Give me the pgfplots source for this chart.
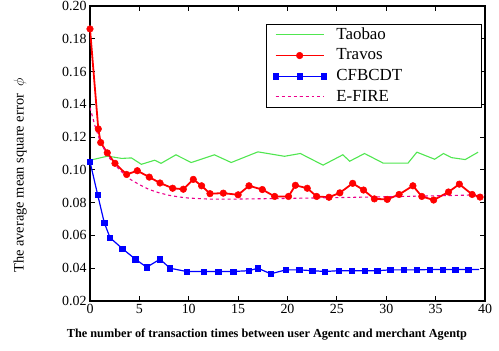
\documentclass[border=0pt]{standalone}
\usepackage{pgfplots}
\pgfplotsset{compat=1.18}
\usepackage{fontspec}
\setmainfont{Liberation Serif}
\definecolor{tbgreen}{RGB}{80,230,80}
\begin{document}
\begin{tikzpicture}
\useasboundingbox (-90bp,-50bp) rectangle (409bp,301bp);
\begin{axis}[
  at={(0,0)}, anchor=south west,
  scale only axis, width=395bp, height=295bp,
  xmin=0, xmax=40, ymin=0.02, ymax=0.20,
  xtick={0,5,10,15,20,25,30,35,40},
  ytick={0.02,0.04,0.06,0.08,0.10,0.12,0.14,0.16,0.18,0.20},
  tick align=inside, major tick length=5bp,
  axis line style={line width=1.3bp},
  every tick/.style={black, line width=0.8bp},
  tick label style={font=\rmfamily\fontsize{14}{14}\selectfont},
  /pgf/number format/assume math mode=true,
  yticklabel style={/pgf/number format/fixed, /pgf/number format/precision=2, /pgf/number format/fixed zerofill},
  xlabel={The number of transaction times between user Agentc and merchant Agentp},
  xlabel style={font=\rmfamily\bfseries\fontsize{12.3}{12.3}\selectfont, at={(axis description cs:0.448,-0.112)}, anchor=center},
  ylabel={The average mean square error\ \ $\phi$},
  ylabel style={font=\rmfamily\fontsize{14.5}{14.5}\selectfont, at={(axis description cs:-0.177,0.425)}, anchor=center, rotate=0},
  legend style={at={(axis description cs:0.992,0.939)}, anchor=north east, draw=black, line width=1bp,
    font=\rmfamily\fontsize{17}{17}\selectfont, inner xsep=6bp, inner ysep=0bp, row sep=0pt, column sep=8bp,
    nodes={inner xsep=2bp, inner ysep=2.6bp, text height=12bp, text depth=3.5bp}},
  legend cell align=left,
  legend image code/.code={\draw[mark repeat=2,mark phase=2,#1] plot coordinates {(0bp,0bp) (24bp,0bp) (48bp,0bp)};},
]
\addplot[color=tbgreen, line width=1.1bp, no marks] coordinates {
(0,0.1059)(1.8,0.1084)(3.2,0.107)(4.2,0.1073)(5.2,0.1034)(6.55,0.1059)(7.2,0.104)(8.7,0.1092)(10.25,0.1045)(12.6,0.1092)(14.3,0.1045)(17.0,0.111)(19.7,0.1083)(21.3,0.110)(23.6,0.1029)(25.6,0.1092)(26.3,0.1053)(27.8,0.110)(29.7,0.1041)(32.2,0.1041)(33.1,0.1108)(34.9,0.1065)(35.8,0.110)(36.6,0.1075)(38.0,0.1063)(39.3,0.1108)
};
\addlegendentry{\makebox[137bp][l]{Taobao}}
\addplot[color=red, line width=1.8bp, mark=*, mark size=3.3bp, mark options={solid, fill=red, line width=0.5bp}] coordinates {
(0,0.186)(0.84,0.125)(1.08,0.1167)(1.75,0.1104)(2.53,0.104)(3.71,0.0972)(4.79,0.0995)(6.0,0.0956)(7.09,0.092)(8.37,0.0888)(9.45,0.0882)(10.46,0.0942)(11.3,0.0903)(12.15,0.0855)(13.5,0.0858)(15.0,0.0848)(16.1,0.0903)(17.45,0.088)(18.7,0.0838)(20.1,0.0838)(20.8,0.0906)(22.0,0.0888)(22.95,0.0838)(24.2,0.0833)(25.3,0.086)(26.6,0.0918)(27.7,0.0877)(28.8,0.0823)(30.1,0.082)(31.3,0.085)(32.7,0.0903)(33.6,0.0838)(34.8,0.0816)(36.3,0.0865)(37.4,0.0913)(38.7,0.085)(39.5,0.0834)
};
\addlegendentry{Travos}
\addplot[color=blue, line width=1.2bp, mark=square*, mark size=2.7bp, mark options={solid, fill=blue, line width=0.5bp}, mark indices={1,...,31}] coordinates {
(0,0.105)(0.78,0.0847)(1.45,0.0677)(2.03,0.0586)(3.27,0.052)(4.6,0.0455)(5.74,0.0406)(7.09,0.0455)(8.1,0.040)(9.79,0.038)(11.5,0.038)(13.0,0.038)(14.5,0.038)(16.1,0.0385)(17.0,0.040)(18.3,0.0366)(19.85,0.039)(21.2,0.039)(22.5,0.0385)(23.8,0.038)(25.2,0.0385)(26.5,0.0385)(27.8,0.0385)(29.1,0.0385)(30.4,0.039)(31.8,0.039)(33.1,0.039)(34.4,0.0392)(35.7,0.0392)(37.0,0.0392)(38.3,0.0392)(39.4,0.0392)
};
\addlegendentry{CFBCDT}
\addplot[color=magenta, line width=1.1bp, dashed, no marks] coordinates {
(0,0.138)(0.5,0.127)(1,0.118)(1.5,0.112)(2,0.107)(3,0.100)(4,0.0945)(5,0.091)(6,0.088)(7,0.086)(8,0.0845)(9,0.0835)(10,0.0828)(12,0.0822)(15,0.0822)(20,0.0826)(25,0.0831)(30,0.0836)(35,0.0842)(40,0.0848)
};
\addlegendentry{E-FIRE}
\end{axis}
\end{tikzpicture}
\end{document}
